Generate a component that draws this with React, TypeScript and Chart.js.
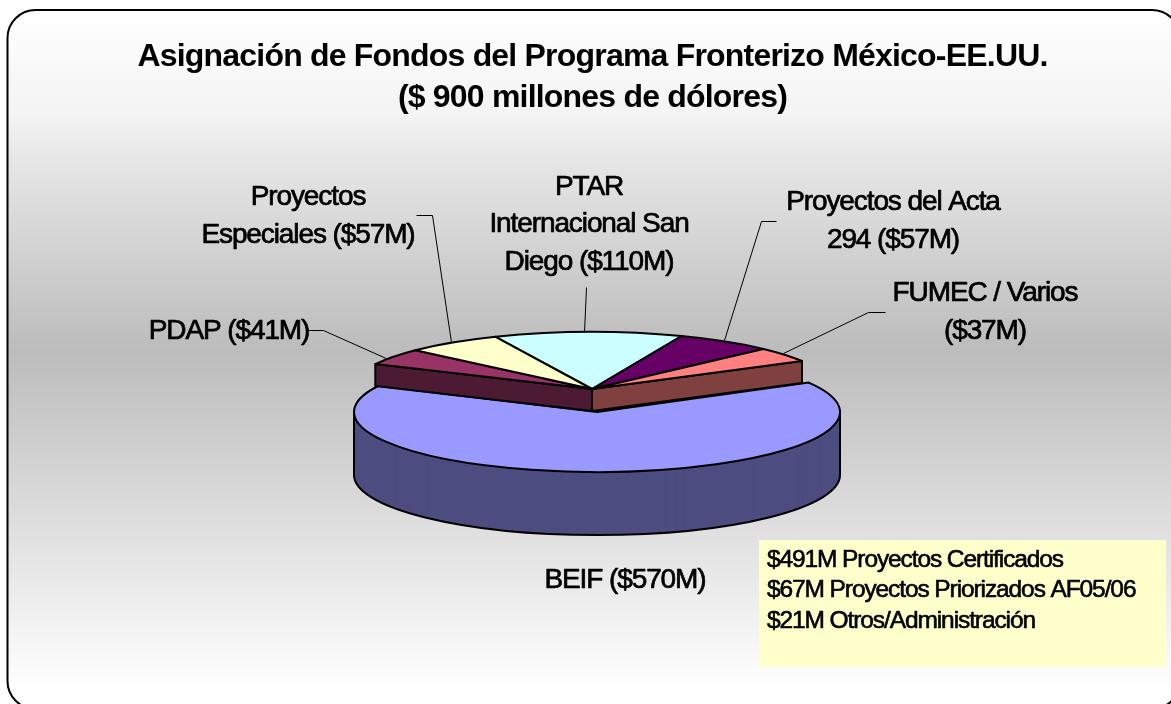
import React, { useEffect, useRef } from "react";
import { Chart, registerables } from "chart.js";

Chart.register(...registerables);

// Data ($ millions), clockwise from the top slice.
const categories = ["PTAR Internacional San Diego", "Proyectos del Acta 294", "FUMEC / Varios", "BEIF", "PDAP", "Proyectos Especiales"];
const amounts = [110, 57, 37, 570, 41, 57];
const topColors = ["#ccffff", "#660066", "#ff8080", "#9999ff", "#993366", "#ffffcc"];
const sideColors = ["#668080", "#330033", "#804040", "#4d4d80", "#4d1a33", "#808066"];
const titleLines = ["Asignación de Fondos del Programa Fronterizo México-EE.UU.", "($ 900 millones de dólores)"];
const noteLines = ["$491M Proyectos Certificados", "$67M Proyectos Priorizados AF05/06", "$21M Otros/Administración"];

const BEIF_INDEX = 3;

type Callout = { lines: string[]; x: number; y: number; pitch: number; leader: number[][] };
const callouts: Callout[] = [
  { lines: ["PTAR", "Internacional San", "Diego ($110M)"], x: 589, y: 187, pitch: 37.5, leader: [[586, 287], [584, 332]] },
  { lines: ["Proyectos del Acta", "294 ($57M)"], x: 893, y: 202, pitch: 38.5, leader: [[776, 221], [761, 221], [724, 340]] },
  { lines: ["FUMEC / Varios", "($37M)"], x: 985, y: 293, pitch: 38.5, leader: [[885, 312], [868, 312], [783, 353]] },
  { lines: ["BEIF ($570M)"], x: 625, y: 580, pitch: 0, leader: [] },
  { lines: ["PDAP ($41M)"], x: 229, y: 331, pitch: 0, leader: [[307, 330], [323, 330], [388, 359]] },
  { lines: ["Proyectos", "Especiales ($57M)"], x: 308, y: 197, pitch: 38, leader: [[416, 215], [432, 215], [451, 342]] },
];

const backEllipse = { cx: 592, cy: 389, rx: 241, ry: 57, depth: 22 };
const frontEllipse = { cx: 597, cy: 412, rx: 243, ry: 60, depth: 63 };

function withProjection(ctx: any, arc: any, e: any, dy: number, fn: () => void) {
  ctx.save();
  ctx.translate(e.cx, e.cy + dy);
  ctx.scale(e.rx / arc.outerRadius, e.ry / arc.outerRadius);
  ctx.translate(-arc.x, -arc.y);
  fn();
  ctx.restore();
}

function fillArc(ctx: any, arc: any, e: any, dy: number, color: string) {
  withProjection(ctx, arc, e, dy, () => {
    const saved = arc.options.backgroundColor;
    arc.options.backgroundColor = color;
    arc.draw(ctx);
    arc.options.backgroundColor = saved;
  });
}

function strokeSlice(ctx: any, arc: any, e: any) {
  ctx.beginPath();
  withProjection(ctx, arc, e, 0, () => {
    ctx.moveTo(arc.x, arc.y);
    ctx.arc(arc.x, arc.y, arc.outerRadius, arc.startAngle, arc.endAngle);
    ctx.closePath();
  });
  ctx.stroke();
}

function drawFrontSide(ctx: any, arc: any, e: any) {
  const a0 = Math.max(arc.startAngle, 0);
  const a1 = Math.min(arc.endAngle, Math.PI);
  ctx.beginPath();
  ctx.moveTo(e.cx + e.rx, e.cy);
  withProjection(ctx, arc, e, e.depth, () => {
    ctx.arc(arc.x, arc.y, arc.outerRadius, a0, a1);
  });
  ctx.lineTo(e.cx - e.rx, e.cy);
  ctx.stroke();
}

const pie3dPlugin = {
  id: "pie3d",
  beforeDatasetsDraw(chart: any) {
    const ctx = chart.ctx;
    const arcs = chart.getDatasetMeta(0).data;
    const front = arcs[BEIF_INDEX];
    ctx.save();
    ctx.lineJoin = "round";
    ctx.strokeStyle = "#000";
    ctx.lineWidth = 2;

    // exploded front slice: side wall, then top
    for (let d = frontEllipse.depth; d > 0; d--) fillArc(ctx, front, frontEllipse, d, sideColors[BEIF_INDEX]);
    drawFrontSide(ctx, front, frontEllipse);
    fillArc(ctx, front, frontEllipse, 0, topColors[BEIF_INDEX]);
    strokeSlice(ctx, front, frontEllipse);

    // the two slices beside the gap show their cut walls
    [BEIF_INDEX - 1, BEIF_INDEX + 1].forEach((i, k) => {
      const a = arcs[i];
      const ang = k === 0 ? a.endAngle : a.startAngle;
      const px = backEllipse.cx + backEllipse.rx * Math.cos(ang);
      const py = backEllipse.cy + backEllipse.ry * Math.sin(ang);
      ctx.beginPath();
      ctx.moveTo(backEllipse.cx, backEllipse.cy);
      ctx.lineTo(backEllipse.cx, backEllipse.cy + backEllipse.depth);
      ctx.lineTo(px, py + backEllipse.depth);
      ctx.lineTo(px, py);
      ctx.closePath();
      ctx.fillStyle = sideColors[i];
      ctx.fill();
      ctx.stroke();
    });
    // tops
    arcs.forEach((a: any, i: number) => {
      if (i === BEIF_INDEX) return;
      fillArc(ctx, a, backEllipse, 0, topColors[i]);
      strokeSlice(ctx, a, backEllipse);
    });
    ctx.restore();
    return false;
  },
};

const sceneryPlugin = {
  id: "scenery",
  beforeDraw(chart: any) {
    const ctx = chart.ctx;
    const w = chart.width;
    const g = ctx.createLinearGradient(0, 10, 0, 690);
    g.addColorStop(0, "#ffffff");
    g.addColorStop(0.15, "#f4f4f4");
    g.addColorStop(0.235, "#e4e4e4");
    g.addColorStop(0.5, "#bcbcbc");
    g.addColorStop(1, "#ffffff");
    ctx.save();
    ctx.fillStyle = "#ffffff";
    ctx.fillRect(0, 0, w, chart.height);
    ctx.beginPath();
    ctx.roundRect(7.5, 10, 1172.5, 699, 28);
    ctx.fillStyle = g;
    ctx.fill();
    ctx.lineWidth = 2;
    ctx.strokeStyle = "#000";
    ctx.stroke();
    ctx.fillStyle = "#ffffcc";
    ctx.fillRect(759, 540, 407, 127);
    ctx.restore();
    ctx.letterSpacing = "-0.8px";
  },
  afterDraw(chart: any) {
    const ctx = chart.ctx;
    ctx.save();
    ctx.strokeStyle = "#000";
    ctx.lineWidth = 1;
    callouts.forEach((c) => {
      if (!c.leader.length) return;
      ctx.beginPath();
      c.leader.forEach((p, i) => (i ? ctx.lineTo(p[0] + 0.5, p[1] + 0.5) : ctx.moveTo(p[0] + 0.5, p[1] + 0.5)));
      ctx.stroke();
    });
    ctx.fillStyle = "#000";
    ctx.textBaseline = "middle";
    ctx.textAlign = "center";
    ctx.lineJoin = "round";
    ctx.font = "28px 'Liberation Sans'";
    ctx.letterSpacing = "-1.1px";
    ctx.lineWidth = 0.7;
    callouts.forEach((c) => {
      c.lines.forEach((t, i) => {
        ctx.fillText(t, c.x, c.y + i * c.pitch);
        ctx.strokeText(t, c.x, c.y + i * c.pitch);
      });
    });
    ctx.textAlign = "left";
    ctx.font = "24.5px 'Liberation Sans'";
    ctx.letterSpacing = "-1.1px";
    ctx.lineWidth = 0.6;
    noteLines.forEach((t, i) => {
      ctx.fillText(t, 767, 560 + i * 30.5);
      ctx.strokeText(t, 767, 560 + i * 30.5);
    });
    ctx.restore();
    ctx.letterSpacing = "0px";
  },
};

export default function App() {
  const ref = useRef<HTMLCanvasElement>(null);
  useEffect(() => {
    document.body.style.margin = "0";
    const chart = new Chart(ref.current as HTMLCanvasElement, {
      type: "pie",
      data: {
        labels: categories,
        datasets: [{ data: amounts, backgroundColor: topColors, borderWidth: 0 }],
      },
      options: {
        responsive: false,
        animation: false,
        rotation: -23.6,
        layout: { padding: { left: 14 } },
        plugins: {
          legend: { display: false },
          tooltip: { enabled: false },
          title: {
            display: true,
            text: titleLines,
            color: "#000",
            font: { family: "'Liberation Sans'", size: 32, weight: "bold", lineHeight: 1.3 },
            padding: { top: 36, bottom: 10 },
          },
        },
      },
      plugins: [sceneryPlugin, pie3dPlugin],
    } as any);
    return () => chart.destroy();
  }, []);
  return <canvas ref={ref} width={1171} height={704} style={{ display: "block" }} />;
}
